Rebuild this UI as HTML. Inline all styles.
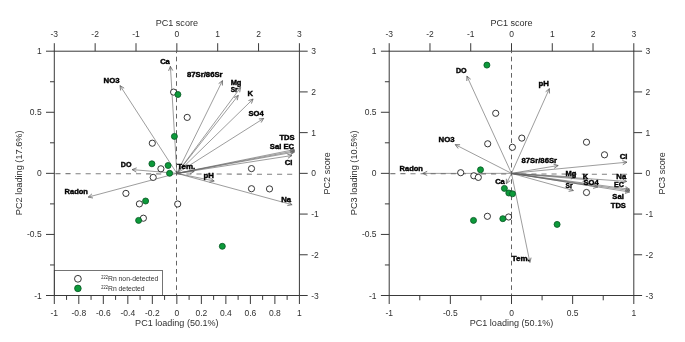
<!DOCTYPE html>
<html><head><meta charset="utf-8"><title>PCA biplots</title>
<style>
html,body{margin:0;padding:0;background:#fff;}
svg{display:block;will-change:transform;font-family:"Liberation Sans",sans-serif;}
</style></head>
<body>
<svg width="685" height="342" viewBox="0 0 685 342">
<rect width="685" height="342" fill="#ffffff"/>
<line x1="55.40" y1="173.60" x2="292.85" y2="174.28" stroke="#808080" stroke-width="1.05" stroke-dasharray="5.1 4.975"/>
<line x1="176.50" y1="51.70" x2="176.50" y2="295.50" stroke="#484848" stroke-width="0.85" stroke-dasharray="4.6 3.565" stroke-dashoffset="3.15"/>
<line x1="176.85" y1="173.35" x2="170.40" y2="66.30" stroke="#606060" stroke-width="0.62" />
<polyline points="172.81,70.57 170.40,66.30 168.52,70.83" fill="#606060" fill-opacity="0.12" stroke="#555555" stroke-width="0.7" stroke-linejoin="miter"/>
<line x1="176.85" y1="173.35" x2="120.00" y2="85.60" stroke="#606060" stroke-width="0.62" />
<polyline points="124.20,88.13 120.00,85.60 120.59,90.46" fill="#606060" fill-opacity="0.12" stroke="#555555" stroke-width="0.7" stroke-linejoin="miter"/>
<line x1="176.85" y1="173.35" x2="222.50" y2="80.60" stroke="#606060" stroke-width="0.62" />
<polyline points="222.48,85.50 222.50,80.60 218.63,83.60" fill="#606060" fill-opacity="0.12" stroke="#555555" stroke-width="0.7" stroke-linejoin="miter"/>
<line x1="176.85" y1="173.35" x2="240.60" y2="87.50" stroke="#606060" stroke-width="0.62" />
<polyline points="239.70,92.32 240.60,87.50 236.25,89.76" fill="#606060" fill-opacity="0.12" stroke="#555555" stroke-width="0.7" stroke-linejoin="miter"/>
<line x1="176.85" y1="173.35" x2="238.30" y2="95.40" stroke="#606060" stroke-width="0.62" />
<polyline points="237.26,100.19 238.30,95.40 233.89,97.53" fill="#606060" fill-opacity="0.12" stroke="#555555" stroke-width="0.7" stroke-linejoin="miter"/>
<line x1="176.85" y1="173.35" x2="253.10" y2="99.00" stroke="#606060" stroke-width="0.62" />
<polyline points="251.45,103.61 253.10,99.00 248.45,100.54" fill="#606060" fill-opacity="0.12" stroke="#555555" stroke-width="0.7" stroke-linejoin="miter"/>
<line x1="176.85" y1="173.35" x2="263.70" y2="118.40" stroke="#606060" stroke-width="0.62" />
<polyline points="261.13,122.57 263.70,118.40 258.83,118.94" fill="#606060" fill-opacity="0.12" stroke="#555555" stroke-width="0.7" stroke-linejoin="miter"/>
<line x1="176.85" y1="173.35" x2="294.30" y2="149.60" stroke="#606060" stroke-width="0.62" />
<polyline points="290.41,152.58 294.30,149.60 289.56,148.37" fill="#606060" fill-opacity="0.12" stroke="#555555" stroke-width="0.7" stroke-linejoin="miter"/>
<line x1="176.85" y1="173.35" x2="294.80" y2="150.80" stroke="#606060" stroke-width="0.62" />
<polyline points="290.88,153.74 294.80,150.80 290.07,149.52" fill="#606060" fill-opacity="0.12" stroke="#555555" stroke-width="0.7" stroke-linejoin="miter"/>
<line x1="176.85" y1="173.35" x2="294.50" y2="152.00" stroke="#606060" stroke-width="0.62" />
<polyline points="290.55,154.90 294.50,152.00 289.78,150.67" fill="#606060" fill-opacity="0.12" stroke="#555555" stroke-width="0.7" stroke-linejoin="miter"/>
<line x1="176.85" y1="173.35" x2="292.00" y2="155.50" stroke="#606060" stroke-width="0.62" />
<polyline points="287.98,158.30 292.00,155.50 287.32,154.05" fill="#606060" fill-opacity="0.12" stroke="#555555" stroke-width="0.7" stroke-linejoin="miter"/>
<line x1="176.85" y1="173.35" x2="132.10" y2="169.60" stroke="#606060" stroke-width="0.62" />
<polyline points="136.67,167.83 132.10,169.60 136.31,172.11" fill="#606060" fill-opacity="0.12" stroke="#555555" stroke-width="0.7" stroke-linejoin="miter"/>
<line x1="176.85" y1="173.35" x2="88.20" y2="197.10" stroke="#606060" stroke-width="0.62" />
<polyline points="91.90,193.89 88.20,197.10 93.01,198.04" fill="#606060" fill-opacity="0.12" stroke="#555555" stroke-width="0.7" stroke-linejoin="miter"/>
<line x1="176.85" y1="173.35" x2="214.20" y2="181.00" stroke="#606060" stroke-width="0.62" />
<polyline points="209.45,182.22 214.20,181.00 210.32,178.01" fill="#606060" fill-opacity="0.12" stroke="#555555" stroke-width="0.7" stroke-linejoin="miter"/>
<line x1="176.85" y1="173.35" x2="292.10" y2="204.70" stroke="#606060" stroke-width="0.62" />
<polyline points="287.29,205.62 292.10,204.70 288.41,201.47" fill="#606060" fill-opacity="0.12" stroke="#555555" stroke-width="0.7" stroke-linejoin="miter"/>
<line x1="176.85" y1="173.35" x2="194.20" y2="171.40" stroke="#606060" stroke-width="0.62" />
<polyline points="190.06,174.03 194.20,171.40 189.58,169.76" fill="#606060" fill-opacity="0.12" stroke="#555555" stroke-width="0.7" stroke-linejoin="miter"/>
<circle cx="173.60" cy="92.10" r="3.1" fill="#ffffff" stroke="#202020" stroke-width="0.9"/>
<circle cx="187.20" cy="117.40" r="3.1" fill="#ffffff" stroke="#202020" stroke-width="0.9"/>
<circle cx="152.30" cy="143.20" r="3.1" fill="#ffffff" stroke="#202020" stroke-width="0.9"/>
<circle cx="160.90" cy="168.80" r="3.1" fill="#ffffff" stroke="#202020" stroke-width="0.9"/>
<circle cx="153.20" cy="177.40" r="3.1" fill="#ffffff" stroke="#202020" stroke-width="0.9"/>
<circle cx="125.90" cy="193.40" r="3.1" fill="#ffffff" stroke="#202020" stroke-width="0.9"/>
<circle cx="139.40" cy="203.90" r="3.1" fill="#ffffff" stroke="#202020" stroke-width="0.9"/>
<circle cx="177.70" cy="204.00" r="3.1" fill="#ffffff" stroke="#202020" stroke-width="0.9"/>
<circle cx="143.40" cy="218.20" r="3.1" fill="#ffffff" stroke="#202020" stroke-width="0.9"/>
<circle cx="251.50" cy="168.60" r="3.1" fill="#ffffff" stroke="#202020" stroke-width="0.9"/>
<circle cx="251.50" cy="188.70" r="3.1" fill="#ffffff" stroke="#202020" stroke-width="0.9"/>
<circle cx="269.50" cy="188.90" r="3.1" fill="#ffffff" stroke="#202020" stroke-width="0.9"/>
<circle cx="177.90" cy="94.50" r="3.00" fill="#0c9a3a" stroke="#0a5a26" stroke-width="0.85"/>
<circle cx="174.40" cy="136.40" r="3.00" fill="#0c9a3a" stroke="#0a5a26" stroke-width="0.85"/>
<circle cx="151.90" cy="163.80" r="3.00" fill="#0c9a3a" stroke="#0a5a26" stroke-width="0.85"/>
<circle cx="168.10" cy="165.50" r="3.00" fill="#0c9a3a" stroke="#0a5a26" stroke-width="0.85"/>
<circle cx="169.60" cy="173.30" r="3.00" fill="#0c9a3a" stroke="#0a5a26" stroke-width="0.85"/>
<circle cx="145.60" cy="201.00" r="3.00" fill="#0c9a3a" stroke="#0a5a26" stroke-width="0.85"/>
<circle cx="138.60" cy="220.40" r="3.00" fill="#0c9a3a" stroke="#0a5a26" stroke-width="0.85"/>
<circle cx="222.30" cy="246.30" r="3.00" fill="#0c9a3a" stroke="#0a5a26" stroke-width="0.85"/>
<text x="160.15" y="63.95" transform="rotate(0.02 160.2 63.9)" font-size="6.9" text-anchor="start" fill="#000" font-weight="bold" stroke="#000" stroke-width="0.38" textLength="9.70" lengthAdjust="spacingAndGlyphs">Ca</text>
<text x="103.55" y="82.75" transform="rotate(0.02 103.5 82.8)" font-size="6.9" text-anchor="start" fill="#000" font-weight="bold" stroke="#000" stroke-width="0.38" textLength="16.00" lengthAdjust="spacingAndGlyphs">NO3</text>
<text x="187.05" y="77.35" transform="rotate(0.02 187.1 77.3)" font-size="6.9" text-anchor="start" fill="#000" font-weight="bold" stroke="#000" stroke-width="0.38" textLength="35.50" lengthAdjust="spacingAndGlyphs">87Sr/86Sr</text>
<text x="230.65" y="84.85" transform="rotate(0.02 230.7 84.8)" font-size="6.9" text-anchor="start" fill="#000" font-weight="bold" stroke="#000" stroke-width="0.38" textLength="10.80" lengthAdjust="spacingAndGlyphs">Mg</text>
<text x="230.65" y="92.35" transform="rotate(0.02 230.7 92.3)" font-size="6.9" text-anchor="start" fill="#000" font-weight="bold" stroke="#000" stroke-width="0.38" textLength="7.00" lengthAdjust="spacingAndGlyphs">Sr</text>
<text x="247.45" y="96.25" transform="rotate(0.02 247.4 96.2)" font-size="6.9" text-anchor="start" fill="#000" font-weight="bold" stroke="#000" stroke-width="0.38" textLength="5.50" lengthAdjust="spacingAndGlyphs">K</text>
<text x="248.45" y="115.65" transform="rotate(0.02 248.4 115.6)" font-size="6.9" text-anchor="start" fill="#000" font-weight="bold" stroke="#000" stroke-width="0.38" textLength="15.20" lengthAdjust="spacingAndGlyphs">SO4</text>
<text x="279.45" y="139.85" transform="rotate(0.02 279.4 139.9)" font-size="6.9" text-anchor="start" fill="#000" font-weight="bold" stroke="#000" stroke-width="0.38" textLength="15.20" lengthAdjust="spacingAndGlyphs">TDS</text>
<text x="269.75" y="148.85" transform="rotate(0.02 269.8 148.9)" font-size="6.9" text-anchor="start" fill="#000" font-weight="bold" stroke="#000" stroke-width="0.38" textLength="24.40" lengthAdjust="spacingAndGlyphs">Sal EC</text>
<text x="284.75" y="165.25" transform="rotate(0.02 284.8 165.2)" font-size="6.9" text-anchor="start" fill="#000" font-weight="bold" stroke="#000" stroke-width="0.38" textLength="7.80" lengthAdjust="spacingAndGlyphs">Cl</text>
<text x="120.85" y="167.25" transform="rotate(0.02 120.8 167.2)" font-size="6.9" text-anchor="start" fill="#000" font-weight="bold" stroke="#000" stroke-width="0.38" textLength="10.70" lengthAdjust="spacingAndGlyphs">DO</text>
<text x="64.55" y="194.45" transform="rotate(0.02 64.5 194.5)" font-size="6.9" text-anchor="start" fill="#000" font-weight="bold" stroke="#000" stroke-width="0.38" textLength="23.40" lengthAdjust="spacingAndGlyphs">Radon</text>
<text x="203.55" y="178.35" transform="rotate(0.02 203.6 178.4)" font-size="6.9" text-anchor="start" fill="#000" font-weight="bold" stroke="#000" stroke-width="0.38" textLength="10.40" lengthAdjust="spacingAndGlyphs">pH</text>
<text x="281.15" y="202.25" transform="rotate(0.02 281.1 202.2)" font-size="6.9" text-anchor="start" fill="#000" font-weight="bold" stroke="#000" stroke-width="0.38" textLength="9.90" lengthAdjust="spacingAndGlyphs">Na</text>
<text x="177.25" y="169.05" transform="rotate(0.02 177.2 169.1)" font-size="6.9" text-anchor="start" fill="#000" font-weight="bold" stroke="#000" stroke-width="0.38" textLength="18.00" lengthAdjust="spacingAndGlyphs">Tem.</text>
<rect x="54.30" y="270.5" width="108.10" height="25.00" fill="#fff" stroke="#3a3a3a" stroke-width="0.7"/>
<circle cx="77.90" cy="278.80" r="3.4" fill="#ffffff" stroke="#202020" stroke-width="0.9"/>
<circle cx="77.90" cy="288.40" r="3.30" fill="#0c9a3a" stroke="#0a5a26" stroke-width="0.85"/>
<text x="101.30" y="279.10" transform="rotate(0.02 101.3 279.1)" font-size="4.6" text-anchor="start" fill="#222" font-weight="normal" textLength="6.5" lengthAdjust="spacingAndGlyphs">222</text>
<text x="108.00" y="281.10" transform="rotate(0.02 108.0 281.1)" font-size="6.8" text-anchor="start" fill="#333" font-weight="normal" >Rn non-detected</text>
<text x="101.30" y="288.70" transform="rotate(0.02 101.3 288.7)" font-size="4.6" text-anchor="start" fill="#222" font-weight="normal" textLength="6.5" lengthAdjust="spacingAndGlyphs">222</text>
<text x="108.00" y="290.70" transform="rotate(0.02 108.0 290.7)" font-size="6.8" text-anchor="start" fill="#333" font-weight="normal" >Rn detected</text>
<rect x="54.30" y="51.20" width="245.10" height="244.30" fill="none" stroke="#3a3a3a" stroke-width="1"/>
<line x1="54.30" y1="43.20" x2="54.30" y2="51.20" stroke="#3a3a3a" stroke-width="1.0" />
<text x="54.30" y="37.30" transform="rotate(0.02 54.3 37.3)" font-size="8.5" text-anchor="middle" fill="#303030" font-weight="normal" >-3</text>
<line x1="299.40" y1="295.50" x2="307.70" y2="295.50" stroke="#3a3a3a" stroke-width="1.0" />
<text x="311.20" y="298.55" transform="rotate(0.02 311.2 298.6)" font-size="8.5" text-anchor="start" fill="#303030" font-weight="normal" >-3</text>
<line x1="95.15" y1="43.20" x2="95.15" y2="51.20" stroke="#3a3a3a" stroke-width="1.0" />
<text x="95.15" y="37.30" transform="rotate(0.02 95.2 37.3)" font-size="8.5" text-anchor="middle" fill="#303030" font-weight="normal" >-2</text>
<line x1="299.40" y1="254.78" x2="307.70" y2="254.78" stroke="#3a3a3a" stroke-width="1.0" />
<text x="311.20" y="257.83" transform="rotate(0.02 311.2 257.8)" font-size="8.5" text-anchor="start" fill="#303030" font-weight="normal" >-2</text>
<line x1="136.00" y1="43.20" x2="136.00" y2="51.20" stroke="#3a3a3a" stroke-width="1.0" />
<text x="136.00" y="37.30" transform="rotate(0.02 136.0 37.3)" font-size="8.5" text-anchor="middle" fill="#303030" font-weight="normal" >-1</text>
<line x1="299.40" y1="214.07" x2="307.70" y2="214.07" stroke="#3a3a3a" stroke-width="1.0" />
<text x="311.20" y="217.12" transform="rotate(0.02 311.2 217.1)" font-size="8.5" text-anchor="start" fill="#303030" font-weight="normal" >-1</text>
<line x1="176.85" y1="43.20" x2="176.85" y2="51.20" stroke="#3a3a3a" stroke-width="1.0" />
<text x="176.85" y="37.30" transform="rotate(0.02 176.8 37.3)" font-size="8.5" text-anchor="middle" fill="#303030" font-weight="normal" >0</text>
<line x1="299.40" y1="173.35" x2="307.70" y2="173.35" stroke="#3a3a3a" stroke-width="1.0" />
<text x="311.20" y="176.40" transform="rotate(0.02 311.2 176.4)" font-size="8.5" text-anchor="start" fill="#303030" font-weight="normal" >0</text>
<line x1="217.70" y1="43.20" x2="217.70" y2="51.20" stroke="#3a3a3a" stroke-width="1.0" />
<text x="217.70" y="37.30" transform="rotate(0.02 217.7 37.3)" font-size="8.5" text-anchor="middle" fill="#303030" font-weight="normal" >1</text>
<line x1="299.40" y1="132.63" x2="307.70" y2="132.63" stroke="#3a3a3a" stroke-width="1.0" />
<text x="311.20" y="135.68" transform="rotate(0.02 311.2 135.7)" font-size="8.5" text-anchor="start" fill="#303030" font-weight="normal" >1</text>
<line x1="258.55" y1="43.20" x2="258.55" y2="51.20" stroke="#3a3a3a" stroke-width="1.0" />
<text x="258.55" y="37.30" transform="rotate(0.02 258.5 37.3)" font-size="8.5" text-anchor="middle" fill="#303030" font-weight="normal" >2</text>
<line x1="299.40" y1="91.92" x2="307.70" y2="91.92" stroke="#3a3a3a" stroke-width="1.0" />
<text x="311.20" y="94.97" transform="rotate(0.02 311.2 95.0)" font-size="8.5" text-anchor="start" fill="#303030" font-weight="normal" >2</text>
<line x1="299.40" y1="43.20" x2="299.40" y2="51.20" stroke="#3a3a3a" stroke-width="1.0" />
<text x="299.40" y="37.30" transform="rotate(0.02 299.4 37.3)" font-size="8.5" text-anchor="middle" fill="#303030" font-weight="normal" >3</text>
<line x1="299.40" y1="51.20" x2="307.70" y2="51.20" stroke="#3a3a3a" stroke-width="1.0" />
<text x="311.20" y="54.25" transform="rotate(0.02 311.2 54.2)" font-size="8.5" text-anchor="start" fill="#303030" font-weight="normal" >3</text>
<line x1="46.00" y1="295.50" x2="54.30" y2="295.50" stroke="#3a3a3a" stroke-width="1.0" />
<text x="41.70" y="298.55" transform="rotate(0.02 41.7 298.6)" font-size="8.5" text-anchor="end" fill="#303030" font-weight="normal" >-1</text>
<line x1="50.00" y1="264.96" x2="54.30" y2="264.96" stroke="#3a3a3a" stroke-width="1.0" />
<line x1="46.00" y1="234.43" x2="54.30" y2="234.43" stroke="#3a3a3a" stroke-width="1.0" />
<text x="41.70" y="237.48" transform="rotate(0.02 41.7 237.5)" font-size="8.5" text-anchor="end" fill="#303030" font-weight="normal" >-0.5</text>
<line x1="50.00" y1="203.89" x2="54.30" y2="203.89" stroke="#3a3a3a" stroke-width="1.0" />
<line x1="46.00" y1="173.35" x2="54.30" y2="173.35" stroke="#3a3a3a" stroke-width="1.0" />
<text x="41.70" y="176.40" transform="rotate(0.02 41.7 176.4)" font-size="8.5" text-anchor="end" fill="#303030" font-weight="normal" >0</text>
<line x1="50.00" y1="142.81" x2="54.30" y2="142.81" stroke="#3a3a3a" stroke-width="1.0" />
<line x1="46.00" y1="112.27" x2="54.30" y2="112.27" stroke="#3a3a3a" stroke-width="1.0" />
<text x="41.70" y="115.32" transform="rotate(0.02 41.7 115.3)" font-size="8.5" text-anchor="end" fill="#303030" font-weight="normal" >0.5</text>
<line x1="50.00" y1="81.74" x2="54.30" y2="81.74" stroke="#3a3a3a" stroke-width="1.0" />
<line x1="46.00" y1="51.20" x2="54.30" y2="51.20" stroke="#3a3a3a" stroke-width="1.0" />
<text x="41.70" y="54.25" transform="rotate(0.02 41.7 54.2)" font-size="8.5" text-anchor="end" fill="#303030" font-weight="normal" >1</text>
<line x1="54.30" y1="295.50" x2="54.30" y2="304.00" stroke="#3a3a3a" stroke-width="1.0" />
<text x="54.30" y="315.90" transform="rotate(0.02 54.3 315.9)" font-size="8.5" text-anchor="middle" fill="#303030" font-weight="normal" >-1</text>
<line x1="66.56" y1="295.50" x2="66.56" y2="299.90" stroke="#3a3a3a" stroke-width="1.0" />
<line x1="78.81" y1="295.50" x2="78.81" y2="304.00" stroke="#3a3a3a" stroke-width="1.0" />
<text x="78.81" y="315.90" transform="rotate(0.02 78.8 315.9)" font-size="8.5" text-anchor="middle" fill="#303030" font-weight="normal" >-0.8</text>
<line x1="91.06" y1="295.50" x2="91.06" y2="299.90" stroke="#3a3a3a" stroke-width="1.0" />
<line x1="103.32" y1="295.50" x2="103.32" y2="304.00" stroke="#3a3a3a" stroke-width="1.0" />
<text x="103.32" y="315.90" transform="rotate(0.02 103.3 315.9)" font-size="8.5" text-anchor="middle" fill="#303030" font-weight="normal" >-0.6</text>
<line x1="115.58" y1="295.50" x2="115.58" y2="299.90" stroke="#3a3a3a" stroke-width="1.0" />
<line x1="127.83" y1="295.50" x2="127.83" y2="304.00" stroke="#3a3a3a" stroke-width="1.0" />
<text x="127.83" y="315.90" transform="rotate(0.02 127.8 315.9)" font-size="8.5" text-anchor="middle" fill="#303030" font-weight="normal" >-0.4</text>
<line x1="140.08" y1="295.50" x2="140.08" y2="299.90" stroke="#3a3a3a" stroke-width="1.0" />
<line x1="152.34" y1="295.50" x2="152.34" y2="304.00" stroke="#3a3a3a" stroke-width="1.0" />
<text x="152.34" y="315.90" transform="rotate(0.02 152.3 315.9)" font-size="8.5" text-anchor="middle" fill="#303030" font-weight="normal" >-0.2</text>
<line x1="164.59" y1="295.50" x2="164.59" y2="299.90" stroke="#3a3a3a" stroke-width="1.0" />
<line x1="176.85" y1="295.50" x2="176.85" y2="304.00" stroke="#3a3a3a" stroke-width="1.0" />
<text x="176.85" y="315.90" transform="rotate(0.02 176.8 315.9)" font-size="8.5" text-anchor="middle" fill="#303030" font-weight="normal" >0</text>
<line x1="189.10" y1="295.50" x2="189.10" y2="299.90" stroke="#3a3a3a" stroke-width="1.0" />
<line x1="201.36" y1="295.50" x2="201.36" y2="304.00" stroke="#3a3a3a" stroke-width="1.0" />
<text x="201.36" y="315.90" transform="rotate(0.02 201.4 315.9)" font-size="8.5" text-anchor="middle" fill="#303030" font-weight="normal" >0.2</text>
<line x1="213.62" y1="295.50" x2="213.62" y2="299.90" stroke="#3a3a3a" stroke-width="1.0" />
<line x1="225.87" y1="295.50" x2="225.87" y2="304.00" stroke="#3a3a3a" stroke-width="1.0" />
<text x="225.87" y="315.90" transform="rotate(0.02 225.9 315.9)" font-size="8.5" text-anchor="middle" fill="#303030" font-weight="normal" >0.4</text>
<line x1="238.12" y1="295.50" x2="238.12" y2="299.90" stroke="#3a3a3a" stroke-width="1.0" />
<line x1="250.38" y1="295.50" x2="250.38" y2="304.00" stroke="#3a3a3a" stroke-width="1.0" />
<text x="250.38" y="315.90" transform="rotate(0.02 250.4 315.9)" font-size="8.5" text-anchor="middle" fill="#303030" font-weight="normal" >0.6</text>
<line x1="262.63" y1="295.50" x2="262.63" y2="299.90" stroke="#3a3a3a" stroke-width="1.0" />
<line x1="274.89" y1="295.50" x2="274.89" y2="304.00" stroke="#3a3a3a" stroke-width="1.0" />
<text x="274.89" y="315.90" transform="rotate(0.02 274.9 315.9)" font-size="8.5" text-anchor="middle" fill="#303030" font-weight="normal" >0.8</text>
<line x1="287.14" y1="295.50" x2="287.14" y2="299.90" stroke="#3a3a3a" stroke-width="1.0" />
<line x1="299.40" y1="295.50" x2="299.40" y2="304.00" stroke="#3a3a3a" stroke-width="1.0" />
<text x="299.40" y="315.90" transform="rotate(0.02 299.4 315.9)" font-size="8.5" text-anchor="middle" fill="#303030" font-weight="normal" >1</text>
<text x="176.85" y="26.35" transform="rotate(0.02 176.8 26.4)" font-size="9.05" text-anchor="middle" fill="#303030" font-weight="normal" >PC1 score</text>
<text x="176.85" y="326.40" transform="rotate(0.02 176.8 326.4)" font-size="9.05" text-anchor="middle" fill="#303030" font-weight="normal" >PC1 loading (50.1%)</text>
<text transform="translate(21.70,172.85) rotate(-90)" font-size="9.2" text-anchor="middle" fill="#303030">PC2 loading (17.6%)</text>
<text transform="translate(330.30,173.35) rotate(-90)" font-size="9.05" text-anchor="middle" fill="#303030">PC2 score</text>
<line x1="390.30" y1="173.60" x2="627.25" y2="174.28" stroke="#808080" stroke-width="1.05" stroke-dasharray="5.1 4.975"/>
<line x1="511.50" y1="51.70" x2="511.50" y2="295.50" stroke="#484848" stroke-width="0.85" stroke-dasharray="4.6 3.565" stroke-dashoffset="3.15"/>
<line x1="511.50" y1="173.35" x2="466.90" y2="76.10" stroke="#606060" stroke-width="0.62" />
<polyline points="470.69,79.21 466.90,76.10 466.78,81.00" fill="#606060" fill-opacity="0.12" stroke="#555555" stroke-width="0.7" stroke-linejoin="miter"/>
<line x1="511.50" y1="173.35" x2="549.40" y2="88.60" stroke="#606060" stroke-width="0.62" />
<polyline points="549.56,93.50 549.40,88.60 545.64,91.74" fill="#606060" fill-opacity="0.12" stroke="#555555" stroke-width="0.7" stroke-linejoin="miter"/>
<line x1="511.50" y1="173.35" x2="455.20" y2="144.60" stroke="#606060" stroke-width="0.62" />
<polyline points="460.10,144.69 455.20,144.60 458.15,148.52" fill="#606060" fill-opacity="0.12" stroke="#555555" stroke-width="0.7" stroke-linejoin="miter"/>
<line x1="511.50" y1="173.35" x2="558.20" y2="165.50" stroke="#606060" stroke-width="0.62" />
<polyline points="554.21,168.35 558.20,165.50 553.50,164.11" fill="#606060" fill-opacity="0.12" stroke="#555555" stroke-width="0.7" stroke-linejoin="miter"/>
<line x1="511.50" y1="173.35" x2="627.00" y2="162.20" stroke="#606060" stroke-width="0.62" />
<polyline points="622.82,164.76 627.00,162.20 622.41,160.49" fill="#606060" fill-opacity="0.12" stroke="#555555" stroke-width="0.7" stroke-linejoin="miter"/>
<line x1="511.50" y1="173.35" x2="422.80" y2="173.40" stroke="#606060" stroke-width="0.62" />
<polyline points="427.20,171.25 422.80,173.40 427.21,175.55" fill="#606060" fill-opacity="0.12" stroke="#555555" stroke-width="0.7" stroke-linejoin="miter"/>
<line x1="511.50" y1="173.35" x2="506.30" y2="183.70" stroke="#606060" stroke-width="0.62" />
<polyline points="506.36,178.80 506.30,183.70 510.20,180.73" fill="#606060" fill-opacity="0.12" stroke="#555555" stroke-width="0.7" stroke-linejoin="miter"/>
<line x1="511.50" y1="173.35" x2="575.40" y2="177.10" stroke="#606060" stroke-width="0.62" />
<polyline points="570.88,178.99 575.40,177.10 571.13,174.70" fill="#606060" fill-opacity="0.12" stroke="#555555" stroke-width="0.7" stroke-linejoin="miter"/>
<line x1="511.50" y1="173.35" x2="587.20" y2="179.70" stroke="#606060" stroke-width="0.62" />
<polyline points="582.63,181.47 587.20,179.70 582.99,177.19" fill="#606060" fill-opacity="0.12" stroke="#555555" stroke-width="0.7" stroke-linejoin="miter"/>
<line x1="511.50" y1="173.35" x2="597.80" y2="187.00" stroke="#606060" stroke-width="0.62" />
<polyline points="593.11,188.43 597.80,187.00 593.79,184.19" fill="#606060" fill-opacity="0.12" stroke="#555555" stroke-width="0.7" stroke-linejoin="miter"/>
<line x1="511.50" y1="173.35" x2="573.40" y2="190.50" stroke="#606060" stroke-width="0.62" />
<polyline points="568.58,191.39 573.40,190.50 569.73,187.25" fill="#606060" fill-opacity="0.12" stroke="#555555" stroke-width="0.7" stroke-linejoin="miter"/>
<line x1="511.50" y1="173.35" x2="626.70" y2="181.40" stroke="#606060" stroke-width="0.62" />
<polyline points="622.16,183.24 626.70,181.40 622.46,178.95" fill="#606060" fill-opacity="0.12" stroke="#555555" stroke-width="0.7" stroke-linejoin="miter"/>
<line x1="511.50" y1="173.35" x2="629.60" y2="189.20" stroke="#606060" stroke-width="0.62" />
<polyline points="624.95,190.74 629.60,189.20 625.52,186.49" fill="#606060" fill-opacity="0.12" stroke="#555555" stroke-width="0.7" stroke-linejoin="miter"/>
<line x1="511.50" y1="173.35" x2="629.80" y2="190.60" stroke="#606060" stroke-width="0.62" />
<polyline points="625.13,192.09 629.80,190.60 625.75,187.84" fill="#606060" fill-opacity="0.12" stroke="#555555" stroke-width="0.7" stroke-linejoin="miter"/>
<line x1="511.50" y1="173.35" x2="629.60" y2="192.00" stroke="#606060" stroke-width="0.62" />
<polyline points="624.91,193.43 629.60,192.00 625.58,189.19" fill="#606060" fill-opacity="0.12" stroke="#555555" stroke-width="0.7" stroke-linejoin="miter"/>
<line x1="511.50" y1="173.35" x2="529.90" y2="262.40" stroke="#606060" stroke-width="0.62" />
<polyline points="526.91,258.52 529.90,262.40 531.11,257.65" fill="#606060" fill-opacity="0.12" stroke="#555555" stroke-width="0.7" stroke-linejoin="miter"/>
<circle cx="495.70" cy="113.30" r="3.1" fill="#ffffff" stroke="#202020" stroke-width="0.9"/>
<circle cx="487.70" cy="143.80" r="3.1" fill="#ffffff" stroke="#202020" stroke-width="0.9"/>
<circle cx="512.40" cy="147.30" r="3.1" fill="#ffffff" stroke="#202020" stroke-width="0.9"/>
<circle cx="521.80" cy="138.10" r="3.1" fill="#ffffff" stroke="#202020" stroke-width="0.9"/>
<circle cx="586.50" cy="142.20" r="3.1" fill="#ffffff" stroke="#202020" stroke-width="0.9"/>
<circle cx="604.50" cy="154.80" r="3.1" fill="#ffffff" stroke="#202020" stroke-width="0.9"/>
<circle cx="460.70" cy="172.70" r="3.1" fill="#ffffff" stroke="#202020" stroke-width="0.9"/>
<circle cx="473.80" cy="175.80" r="3.1" fill="#ffffff" stroke="#202020" stroke-width="0.9"/>
<circle cx="478.30" cy="177.40" r="3.1" fill="#ffffff" stroke="#202020" stroke-width="0.9"/>
<circle cx="487.40" cy="216.30" r="3.1" fill="#ffffff" stroke="#202020" stroke-width="0.9"/>
<circle cx="508.60" cy="217.00" r="3.1" fill="#ffffff" stroke="#202020" stroke-width="0.9"/>
<circle cx="586.50" cy="192.50" r="3.1" fill="#ffffff" stroke="#202020" stroke-width="0.9"/>
<circle cx="486.90" cy="65.10" r="3.00" fill="#0c9a3a" stroke="#0a5a26" stroke-width="0.85"/>
<circle cx="480.50" cy="169.80" r="3.00" fill="#0c9a3a" stroke="#0a5a26" stroke-width="0.85"/>
<circle cx="504.40" cy="188.40" r="3.00" fill="#0c9a3a" stroke="#0a5a26" stroke-width="0.85"/>
<circle cx="508.80" cy="193.00" r="3.00" fill="#0c9a3a" stroke="#0a5a26" stroke-width="0.85"/>
<circle cx="512.50" cy="193.80" r="3.00" fill="#0c9a3a" stroke="#0a5a26" stroke-width="0.85"/>
<circle cx="473.50" cy="220.40" r="3.00" fill="#0c9a3a" stroke="#0a5a26" stroke-width="0.85"/>
<circle cx="502.80" cy="218.70" r="3.00" fill="#0c9a3a" stroke="#0a5a26" stroke-width="0.85"/>
<circle cx="557.10" cy="224.40" r="3.00" fill="#0c9a3a" stroke="#0a5a26" stroke-width="0.85"/>
<text x="455.95" y="73.15" transform="rotate(0.02 455.9 73.1)" font-size="6.9" text-anchor="start" fill="#000" font-weight="bold" stroke="#000" stroke-width="0.38" textLength="10.70" lengthAdjust="spacingAndGlyphs">DO</text>
<text x="538.55" y="86.05" transform="rotate(0.02 538.5 86.0)" font-size="6.9" text-anchor="start" fill="#000" font-weight="bold" stroke="#000" stroke-width="0.38" textLength="10.40" lengthAdjust="spacingAndGlyphs">pH</text>
<text x="438.55" y="141.85" transform="rotate(0.02 438.6 141.9)" font-size="6.9" text-anchor="start" fill="#000" font-weight="bold" stroke="#000" stroke-width="0.38" textLength="16.00" lengthAdjust="spacingAndGlyphs">NO3</text>
<text x="521.55" y="163.35" transform="rotate(0.02 521.5 163.4)" font-size="6.9" text-anchor="start" fill="#000" font-weight="bold" stroke="#000" stroke-width="0.38" textLength="35.50" lengthAdjust="spacingAndGlyphs">87Sr/86Sr</text>
<text x="619.75" y="159.45" transform="rotate(0.02 619.8 159.5)" font-size="6.9" text-anchor="start" fill="#000" font-weight="bold" stroke="#000" stroke-width="0.38" textLength="7.80" lengthAdjust="spacingAndGlyphs">Cl</text>
<text x="399.55" y="170.55" transform="rotate(0.02 399.6 170.6)" font-size="6.9" text-anchor="start" fill="#000" font-weight="bold" stroke="#000" stroke-width="0.38" textLength="23.40" lengthAdjust="spacingAndGlyphs">Radon</text>
<text x="495.15" y="184.45" transform="rotate(0.02 495.1 184.5)" font-size="6.9" text-anchor="start" fill="#000" font-weight="bold" stroke="#000" stroke-width="0.38" textLength="9.70" lengthAdjust="spacingAndGlyphs">Ca</text>
<text x="565.55" y="175.75" transform="rotate(0.02 565.5 175.8)" font-size="6.9" text-anchor="start" fill="#000" font-weight="bold" stroke="#000" stroke-width="0.38" textLength="10.80" lengthAdjust="spacingAndGlyphs">Mg</text>
<text x="582.65" y="179.35" transform="rotate(0.02 582.6 179.4)" font-size="6.9" text-anchor="start" fill="#000" font-weight="bold" stroke="#000" stroke-width="0.38" textLength="5.50" lengthAdjust="spacingAndGlyphs">K</text>
<text x="583.45" y="185.15" transform="rotate(0.02 583.5 185.2)" font-size="6.9" text-anchor="start" fill="#000" font-weight="bold" stroke="#000" stroke-width="0.38" textLength="15.20" lengthAdjust="spacingAndGlyphs">SO4</text>
<text x="565.55" y="187.85" transform="rotate(0.02 565.5 187.9)" font-size="6.9" text-anchor="start" fill="#000" font-weight="bold" stroke="#000" stroke-width="0.38" textLength="7.00" lengthAdjust="spacingAndGlyphs">Sr</text>
<text x="616.35" y="179.35" transform="rotate(0.02 616.4 179.4)" font-size="6.9" text-anchor="start" fill="#000" font-weight="bold" stroke="#000" stroke-width="0.38" textLength="9.90" lengthAdjust="spacingAndGlyphs">Na</text>
<text x="613.95" y="186.85" transform="rotate(0.02 614.0 186.9)" font-size="6.9" text-anchor="start" fill="#000" font-weight="bold" stroke="#000" stroke-width="0.38" textLength="9.90" lengthAdjust="spacingAndGlyphs">EC</text>
<text x="612.35" y="199.25" transform="rotate(0.02 612.4 199.2)" font-size="6.9" text-anchor="start" fill="#000" font-weight="bold" stroke="#000" stroke-width="0.38" textLength="11.40" lengthAdjust="spacingAndGlyphs">Sal</text>
<text x="610.75" y="207.85" transform="rotate(0.02 610.8 207.9)" font-size="6.9" text-anchor="start" fill="#000" font-weight="bold" stroke="#000" stroke-width="0.38" textLength="15.20" lengthAdjust="spacingAndGlyphs">TDS</text>
<text x="511.75" y="260.75" transform="rotate(0.02 511.8 260.8)" font-size="6.9" text-anchor="start" fill="#000" font-weight="bold" stroke="#000" stroke-width="0.38" textLength="18.00" lengthAdjust="spacingAndGlyphs">Tem.</text>
<rect x="389.20" y="51.20" width="244.60" height="244.30" fill="none" stroke="#3a3a3a" stroke-width="1"/>
<line x1="389.20" y1="43.20" x2="389.20" y2="51.20" stroke="#3a3a3a" stroke-width="1.0" />
<text x="389.20" y="37.30" transform="rotate(0.02 389.2 37.3)" font-size="8.5" text-anchor="middle" fill="#303030" font-weight="normal" >-3</text>
<line x1="633.80" y1="295.50" x2="642.10" y2="295.50" stroke="#3a3a3a" stroke-width="1.0" />
<text x="645.60" y="298.55" transform="rotate(0.02 645.6 298.6)" font-size="8.5" text-anchor="start" fill="#303030" font-weight="normal" >-3</text>
<line x1="429.97" y1="43.20" x2="429.97" y2="51.20" stroke="#3a3a3a" stroke-width="1.0" />
<text x="429.97" y="37.30" transform="rotate(0.02 430.0 37.3)" font-size="8.5" text-anchor="middle" fill="#303030" font-weight="normal" >-2</text>
<line x1="633.80" y1="254.78" x2="642.10" y2="254.78" stroke="#3a3a3a" stroke-width="1.0" />
<text x="645.60" y="257.83" transform="rotate(0.02 645.6 257.8)" font-size="8.5" text-anchor="start" fill="#303030" font-weight="normal" >-2</text>
<line x1="470.73" y1="43.20" x2="470.73" y2="51.20" stroke="#3a3a3a" stroke-width="1.0" />
<text x="470.73" y="37.30" transform="rotate(0.02 470.7 37.3)" font-size="8.5" text-anchor="middle" fill="#303030" font-weight="normal" >-1</text>
<line x1="633.80" y1="214.07" x2="642.10" y2="214.07" stroke="#3a3a3a" stroke-width="1.0" />
<text x="645.60" y="217.12" transform="rotate(0.02 645.6 217.1)" font-size="8.5" text-anchor="start" fill="#303030" font-weight="normal" >-1</text>
<line x1="511.50" y1="43.20" x2="511.50" y2="51.20" stroke="#3a3a3a" stroke-width="1.0" />
<text x="511.50" y="37.30" transform="rotate(0.02 511.5 37.3)" font-size="8.5" text-anchor="middle" fill="#303030" font-weight="normal" >0</text>
<line x1="633.80" y1="173.35" x2="642.10" y2="173.35" stroke="#3a3a3a" stroke-width="1.0" />
<text x="645.60" y="176.40" transform="rotate(0.02 645.6 176.4)" font-size="8.5" text-anchor="start" fill="#303030" font-weight="normal" >0</text>
<line x1="552.27" y1="43.20" x2="552.27" y2="51.20" stroke="#3a3a3a" stroke-width="1.0" />
<text x="552.27" y="37.30" transform="rotate(0.02 552.3 37.3)" font-size="8.5" text-anchor="middle" fill="#303030" font-weight="normal" >1</text>
<line x1="633.80" y1="132.63" x2="642.10" y2="132.63" stroke="#3a3a3a" stroke-width="1.0" />
<text x="645.60" y="135.68" transform="rotate(0.02 645.6 135.7)" font-size="8.5" text-anchor="start" fill="#303030" font-weight="normal" >1</text>
<line x1="593.03" y1="43.20" x2="593.03" y2="51.20" stroke="#3a3a3a" stroke-width="1.0" />
<text x="593.03" y="37.30" transform="rotate(0.02 593.0 37.3)" font-size="8.5" text-anchor="middle" fill="#303030" font-weight="normal" >2</text>
<line x1="633.80" y1="91.92" x2="642.10" y2="91.92" stroke="#3a3a3a" stroke-width="1.0" />
<text x="645.60" y="94.97" transform="rotate(0.02 645.6 95.0)" font-size="8.5" text-anchor="start" fill="#303030" font-weight="normal" >2</text>
<line x1="633.80" y1="43.20" x2="633.80" y2="51.20" stroke="#3a3a3a" stroke-width="1.0" />
<text x="633.80" y="37.30" transform="rotate(0.02 633.8 37.3)" font-size="8.5" text-anchor="middle" fill="#303030" font-weight="normal" >3</text>
<line x1="633.80" y1="51.20" x2="642.10" y2="51.20" stroke="#3a3a3a" stroke-width="1.0" />
<text x="645.60" y="54.25" transform="rotate(0.02 645.6 54.2)" font-size="8.5" text-anchor="start" fill="#303030" font-weight="normal" >3</text>
<line x1="380.90" y1="295.50" x2="389.20" y2="295.50" stroke="#3a3a3a" stroke-width="1.0" />
<text x="376.60" y="298.55" transform="rotate(0.02 376.6 298.6)" font-size="8.5" text-anchor="end" fill="#303030" font-weight="normal" >-1</text>
<line x1="384.90" y1="264.96" x2="389.20" y2="264.96" stroke="#3a3a3a" stroke-width="1.0" />
<line x1="380.90" y1="234.43" x2="389.20" y2="234.43" stroke="#3a3a3a" stroke-width="1.0" />
<text x="376.60" y="237.48" transform="rotate(0.02 376.6 237.5)" font-size="8.5" text-anchor="end" fill="#303030" font-weight="normal" >-0.5</text>
<line x1="384.90" y1="203.89" x2="389.20" y2="203.89" stroke="#3a3a3a" stroke-width="1.0" />
<line x1="380.90" y1="173.35" x2="389.20" y2="173.35" stroke="#3a3a3a" stroke-width="1.0" />
<text x="376.60" y="176.40" transform="rotate(0.02 376.6 176.4)" font-size="8.5" text-anchor="end" fill="#303030" font-weight="normal" >0</text>
<line x1="384.90" y1="142.81" x2="389.20" y2="142.81" stroke="#3a3a3a" stroke-width="1.0" />
<line x1="380.90" y1="112.27" x2="389.20" y2="112.27" stroke="#3a3a3a" stroke-width="1.0" />
<text x="376.60" y="115.32" transform="rotate(0.02 376.6 115.3)" font-size="8.5" text-anchor="end" fill="#303030" font-weight="normal" >0.5</text>
<line x1="384.90" y1="81.74" x2="389.20" y2="81.74" stroke="#3a3a3a" stroke-width="1.0" />
<line x1="380.90" y1="51.20" x2="389.20" y2="51.20" stroke="#3a3a3a" stroke-width="1.0" />
<text x="376.60" y="54.25" transform="rotate(0.02 376.6 54.2)" font-size="8.5" text-anchor="end" fill="#303030" font-weight="normal" >1</text>
<line x1="389.20" y1="295.50" x2="389.20" y2="304.00" stroke="#3a3a3a" stroke-width="1.0" />
<text x="389.20" y="315.90" transform="rotate(0.02 389.2 315.9)" font-size="8.5" text-anchor="middle" fill="#303030" font-weight="normal" >-1</text>
<line x1="419.77" y1="295.50" x2="419.77" y2="300.30" stroke="#3a3a3a" stroke-width="1.0" />
<line x1="450.35" y1="295.50" x2="450.35" y2="304.00" stroke="#3a3a3a" stroke-width="1.0" />
<text x="450.35" y="315.90" transform="rotate(0.02 450.4 315.9)" font-size="8.5" text-anchor="middle" fill="#303030" font-weight="normal" >-0.5</text>
<line x1="480.93" y1="295.50" x2="480.93" y2="300.30" stroke="#3a3a3a" stroke-width="1.0" />
<line x1="511.50" y1="295.50" x2="511.50" y2="304.00" stroke="#3a3a3a" stroke-width="1.0" />
<text x="511.50" y="315.90" transform="rotate(0.02 511.5 315.9)" font-size="8.5" text-anchor="middle" fill="#303030" font-weight="normal" >0</text>
<line x1="542.08" y1="295.50" x2="542.08" y2="300.30" stroke="#3a3a3a" stroke-width="1.0" />
<line x1="572.65" y1="295.50" x2="572.65" y2="304.00" stroke="#3a3a3a" stroke-width="1.0" />
<text x="572.65" y="315.90" transform="rotate(0.02 572.6 315.9)" font-size="8.5" text-anchor="middle" fill="#303030" font-weight="normal" >0.5</text>
<line x1="603.23" y1="295.50" x2="603.23" y2="300.30" stroke="#3a3a3a" stroke-width="1.0" />
<line x1="633.80" y1="295.50" x2="633.80" y2="304.00" stroke="#3a3a3a" stroke-width="1.0" />
<text x="633.80" y="315.90" transform="rotate(0.02 633.8 315.9)" font-size="8.5" text-anchor="middle" fill="#303030" font-weight="normal" >1</text>
<text x="511.50" y="26.35" transform="rotate(0.02 511.5 26.4)" font-size="9.05" text-anchor="middle" fill="#303030" font-weight="normal" >PC1 score</text>
<text x="511.50" y="326.40" transform="rotate(0.02 511.5 326.4)" font-size="9.05" text-anchor="middle" fill="#303030" font-weight="normal" >PC1 loading (50.1%)</text>
<text transform="translate(356.60,172.85) rotate(-90)" font-size="9.2" text-anchor="middle" fill="#303030">PC3 loading (10.5%)</text>
<text transform="translate(664.70,173.35) rotate(-90)" font-size="9.05" text-anchor="middle" fill="#303030">PC3 score</text>
</svg>
</body></html>
